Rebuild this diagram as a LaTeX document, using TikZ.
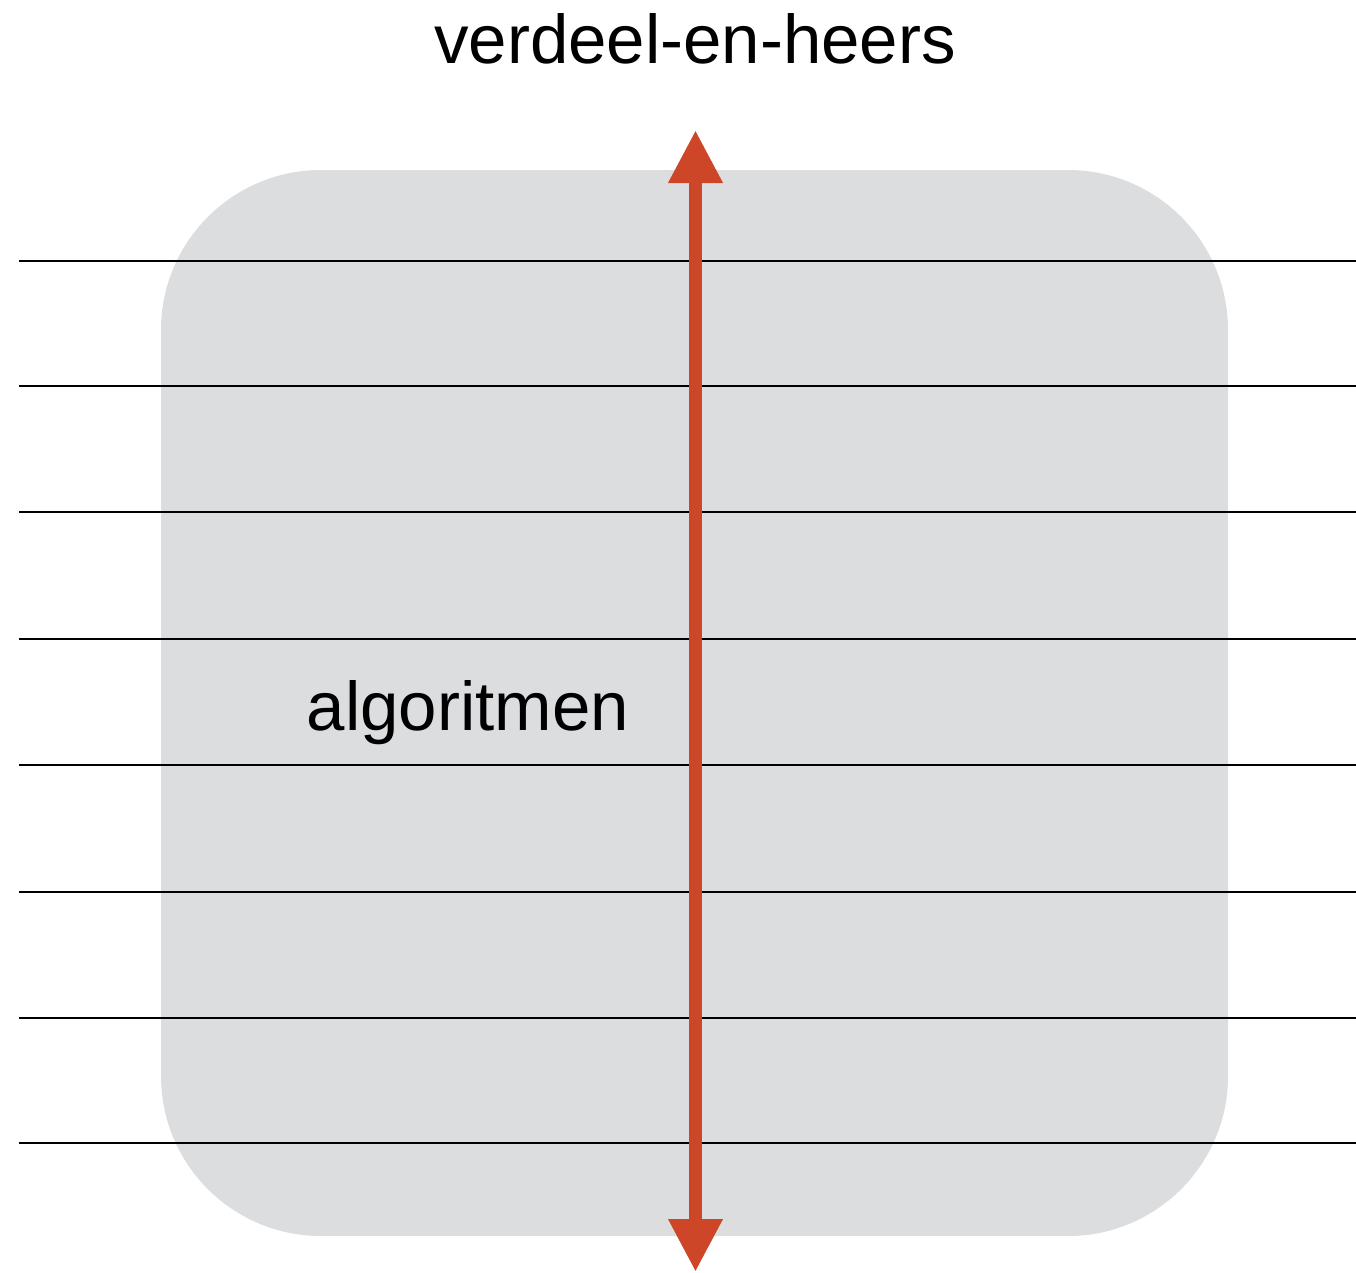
\documentclass[tikz,border=0pt]{standalone}
\usepackage{xcolor}
\usepackage{fontspec}
\setmainfont{Liberation Sans}
\usetikzlibrary{arrows.meta}

\definecolor{panelgray}{HTML}{DCDDDF}
\definecolor{arrowred}{HTML}{CD4628}

\begin{document}
\begin{tikzpicture}[x=1pt, y=-1pt]
    % Define styles
    \tikzstyle{panel} = [fill=panelgray, rounded corners=160pt]
    \tikzstyle{level} = [line width=2.4pt, black]
    \tikzstyle{label} = [inner sep=0pt, anchor=base, font=\fontsize{69}{80}\selectfont]
    \tikzstyle{arrow} = [line width=13pt, arrowred, {Triangle[width=51pt, length=53pt]}-{Triangle[width=51pt, length=53pt]}]

    \useasboundingbox (0,0) rectangle (1356,1272);

    % Background block
    \fill [panel] (161,170) rectangle (1228,1236);

    % Levels
    \foreach \y in {261,386,512,639,765,892,1018,1143}
        \draw [level] (19,\y) -- (1356,\y);

    % Nodes
    \node [label] (title) at (695,63) {verdeel-en-heers};
    \node [label] (algo) at (468,730) {algoritmen};
    \coordinate (top) at (695.5,130);
    \coordinate (bottom) at (695.5,1272);

    % Arrows
    \draw [arrow] (top) -- (bottom);
\end{tikzpicture}
\end{document}
